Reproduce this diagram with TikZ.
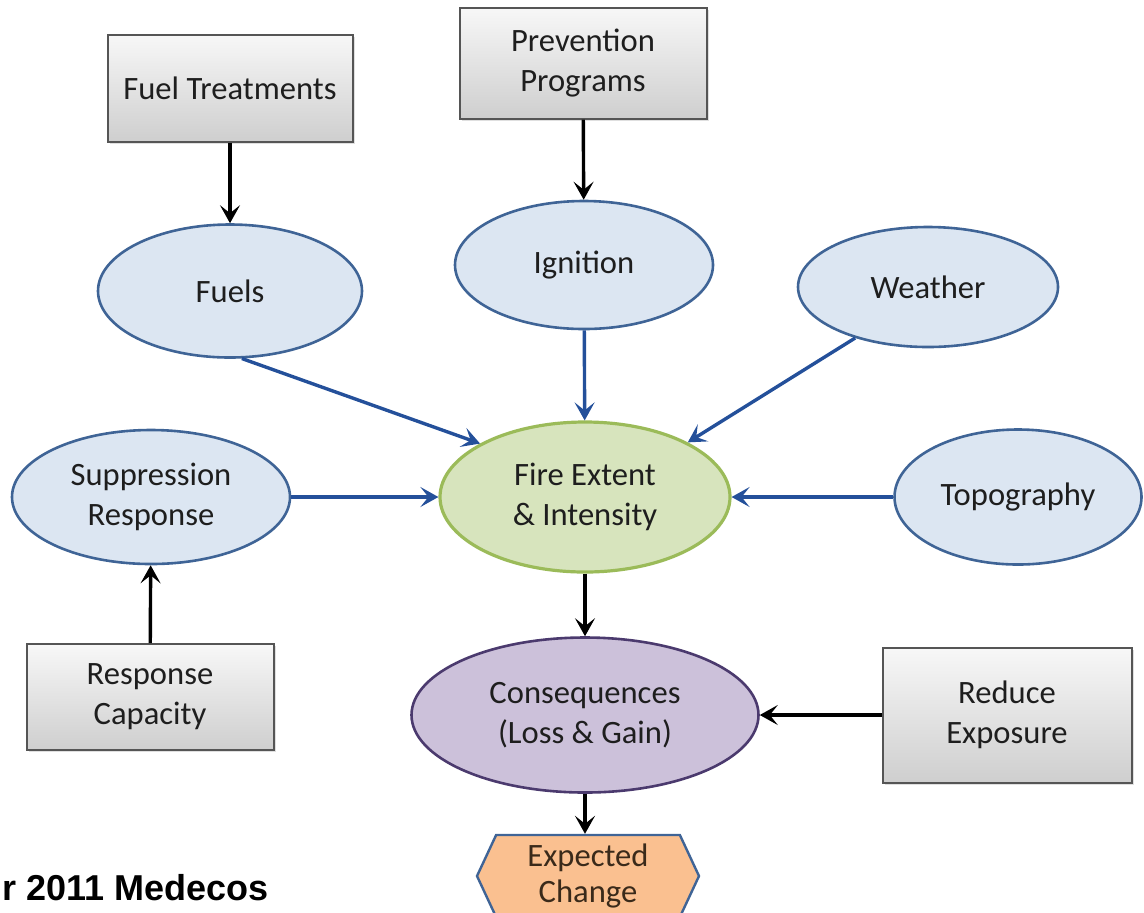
\documentclass[tikz,border=0pt]{standalone}
\usepackage{fontspec}
\setmainfont{Carlito}
\usetikzlibrary{shapes.geometric,shapes.symbols,arrows.meta,shadows}
\definecolor{ellfill}{HTML}{DCE6F2}
\definecolor{elldraw}{HTML}{3F6496}
\definecolor{firefill}{HTML}{D7E4BD}
\definecolor{firedraw}{HTML}{9BBB59}
\definecolor{consfill}{HTML}{CCC1DA}
\definecolor{consdraw}{HTML}{4B3A6E}
\definecolor{expfill}{HTML}{FAC090}
\definecolor{expdraw}{HTML}{3F6496}
\definecolor{exptxt}{HTML}{3A2A1A}
\definecolor{bluearrow}{HTML}{24509A}
\definecolor{boxdraw}{HTML}{555555}
\definecolor{txt}{HTML}{1E1E1E}
\tikzset{
  lbl/.style={font=\fontsize{16.3}{20}\selectfont, text=txt, align=center},
  ell/.style={lbl, ellipse, draw=elldraw, fill=ellfill, line width=1.3pt, inner sep=0pt},
  graybox/.style={lbl, rectangle, draw=boxdraw, line width=1pt, top color=gray!6, bottom color=gray!38,
     drop shadow={shadow xshift=1pt, shadow yshift=-1pt, opacity=0.25}},
  blk/.style={-{Stealth[length=9pt,width=10pt,inset=4pt]}, line width=1.7pt, black},
  blu/.style={-{Stealth[length=9pt,width=10pt,inset=4pt]}, line width=1.7pt, bluearrow},
}
\begin{document}
\begin{tikzpicture}[x=0.5pt,y=-0.5pt]
\useasboundingbox (0,0) rectangle (1144,912);
% boxes
\node[graybox, minimum width=122.5pt, minimum height=53.5pt] (ft) at (230,88) {Fuel Treatments};
\node[graybox, minimum width=123.5pt, minimum height=55.5pt] (pp) at (583,63) {Prevention\\Programs};
\node[graybox, minimum width=123.5pt, minimum height=53pt] (rc) at (150,697) {Response\\Capacity};
\node[graybox, minimum width=124.5pt, minimum height=67.5pt] (re) at (1007,715) {Reduce\\Exposure};
% ellipses
\node[ell, minimum width=132pt, minimum height=66.5pt] (fuels) at (230,291) {Fuels};
\node[ell, minimum width=129pt, minimum height=64pt] (ign) at (584,265) {Ignition};
\node[ell, minimum width=130pt, minimum height=60pt] (wea) at (928,287) {Weather};
\node[ell, minimum width=139pt, minimum height=67pt] (sup) at (151,497) {Suppression\\Response};
\node[ell, minimum width=123.5pt, minimum height=67.5pt] (topo) at (1018,497) {Topography};
\node[ell, draw=firedraw, fill=firefill, line width=1.6pt, minimum width=145pt, minimum height=75pt] (fire) at (585,497) {Fire Extent\\\& Intensity};
\node[ell, draw=consdraw, fill=consfill, minimum width=173.5pt, minimum height=77.5pt] (cons) at (585,715) {Consequences\\(Loss \& Gain)};
\node[lbl, text=exptxt, signal, signal to=west and east, signal pointer angle=130, draw=expdraw, fill=expfill, line width=1.2pt,
      minimum width=111pt, minimum height=41pt, inner sep=0pt, font=\fontsize{16.3}{18}\selectfont] (exp) at (588,876) {Expected\\Change};
% arrows
\draw[blk] (ft) -- (fuels);
\draw[blk] (pp) -- (ign);
\draw[blu] (fuels.-80) -- (fire.153);
\draw[blu] (ign) -- (fire);
\draw[blu] (wea.-145) -- (fire.28);
\draw[blu] (sup.east) -- (fire.west);
\draw[blu] (topo.west) -- (fire.east);
\draw[blk] (rc) -- (sup);
\draw[blk] (fire) -- (cons);
\draw[blk] (re.west) -- (cons.east);
\draw[blk] (cons.south) -- (cons.south |- exp.north);
% caption fragment
\node[anchor=base west, inner sep=0pt, font=\fontsize{18}{20}\selectfont\bfseries\fontspec{Liberation Sans}] (cap) at (2,900) {r 2011 Medecos};
\end{tikzpicture}
\end{document}
